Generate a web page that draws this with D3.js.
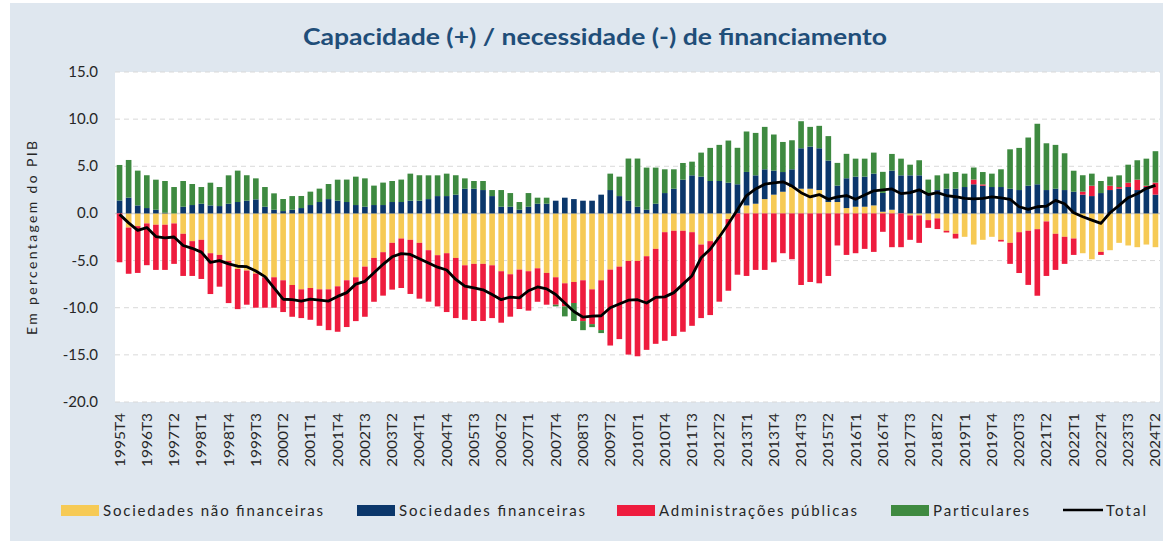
<!DOCTYPE html>
<html>
<head>
<meta charset="utf-8">
<script src="https://d3js.org/d3.v7.min.js"></script>
<style>
  body { margin: 0; background: #fff; }
  text { font-family: Lato, "Open Sans", sans-serif; }
</style>
</head>
<body>
<script>

  // quarters 1995T4 .. 2024T2
  const quarters = [];
  for (let y = 1995, q = 4; y < 2024 || q <= 2; q++) {
    if (q > 4) { q = 1; y++; }
    if (y === 2024 && q > 2) break;
    quarters.push(y + "T" + q);
  }

  // em percentagem do PIB
  const naoFinanceiras = [
    0, -1.5, -1.35, -1.06, -1.2, -1.2, -1.06, -2.16, -2.94, -2.8,
    -4.22, -4.4, -5.04, -5.89, -6.06, -6.38, -6.77, -6.77, -7.09, -7.59,
    -8.05, -7.91, -8.05, -8.05, -7.73, -7.09, -6.77, -5.64, -4.72, -4.11,
    -3.12, -2.66, -2.8, -3.12, -3.9, -4.43, -4.22, -4.72, -5.5, -5.35,
    -5.35, -5.5, -6.13, -6.45, -5.96, -6.13, -5.82, -6.31, -6.77, -7.41,
    -7.27, -7.09, -8.05, -7.09, -5.96, -5.64, -5.04, -5.04, -4.54, -3.76,
    -1.99, -1.84, -1.84, -1.99, -3.3, -2.94, -2.48, -0.6, 0, 0.85,
    1.03, 1.52, 1.99, 2.3, 2.8, 2.62, 2.62, 2.48, 1.21, 1.21,
    0.57, 0.71, 0.71, 0.85, 0.18, 0.39, 0, -0.21, -0.21, -0.71,
    -0.53, -1.84, -2.16, -2.48, -3.3, -2.8, -2.48, -2.8, -3.12, -1.99,
    -1.84, -1.67, -0.85, -2.16, -2.48, -2.66, -4.22, -4.86, -4.08, -3.9,
    -3.12, -3.4, -3.58, -3.3, -3.58
  ];
  const financeiras = [
    1.38, 1.67, 0.85, 0.57, 0.39, 0.07, 0, 0.71, 0.89, 1.03,
    0.85, 0.78, 1.03, 1.21, 1.35, 1.49, 0.71, 0.39, 0.25, 0.39,
    0.57, 0.89, 1.21, 1.52, 1.35, 1.21, 0.89, 0.71, 0.89, 0.89,
    1.21, 1.21, 1.35, 1.35, 1.52, 1.84, 1.84, 1.99, 2.62, 2.62,
    2.48, 1.84, 0.71, 0.71, 0.39, 0.71, 1.03, 1.03, 1.35, 1.67,
    1.52, 1.35, 1.35, 1.99, 2.48, 1.84, 1.35, 0.71, 0.39, 1.03,
    2.16, 2.62, 3.58, 4.04, 3.9, 3.44, 3.44, 3.26, 3.09, 3.55,
    3.01, 3.16, 2.55, 2.09, 1.88, 4.29, 4.47, 4.43, 4.4, 1.74,
    3.16, 3.19, 3.19, 3.37, 2.0, 4.15, 4.04, 4.04, 4.04, 1.99,
    2.48, 2.62, 2.62, 2.8, 3.09, 2.94, 2.8, 2.8, 2.62, 2.48,
    2.94, 3.09, 2.48, 2.62, 2.48, 2.3, 1.99, 1.84, 2.16, 2.48,
    2.62, 2.8, 2.48, 2.8, 1.99
  ];
  const admPublicas = [
    -5.18, -4.9, -4.96, -4.43, -4.79, -4.79, -4.29, -4.47, -3.69, -4.15,
    -4.33, -3.37, -4.47, -4.26, -3.62, -3.62, -3.23, -3.23, -3.37, -3.37,
    -3.05, -3.37, -3.87, -4.33, -4.82, -4.96, -4.65, -5.32, -4.65, -4.61,
    -4.96, -5.25, -5.74, -5.92, -5.46, -5.43, -6.24, -6.38, -5.78, -6.06,
    -6.06, -5.6, -5.46, -4.5, -4.18, -4.18, -3.55, -3.37, -2.91, -2.45,
    -2.23, -4.33, -3.69, -5.28, -8.05, -7.69, -9.93, -10.11, -9.93, -10.07,
    -11.52, -11.17, -10.71, -9.93, -7.8, -7.84, -6.88, -7.6, -6.5, -6.63,
    -5.99, -5.99, -5.18, -4.22, -4.86, -7.59, -7.27, -7.41, -6.63, -3.4,
    -4.4, -4.22, -3.76, -4.08, -1.95, -3.58, -3.58, -2.59, -2.91, -0.82,
    -1.13, -0.18, -0.5, 0, 0.5, 0.14, 0, -0.18, -2.23, -4.33,
    -5.74, -7.06, -5.78, -3.83, -2.87, -1.74, 0.32, 1.1, -0.32, 0.46,
    0.18, 0.46, 1.1, 0.14, 1.28
  ];
  const particulares = [
    3.76, 4.0, 3.69, 3.48, 3.19, 3.37, 2.8, 2.73, 2.23, 1.77,
    2.41, 2.02, 3.01, 3.33, 2.7, 2.23, 2.09, 1.74, 1.28, 1.45,
    1.28, 1.42, 1.42, 1.6, 2.23, 2.38, 3.01, 3.01, 2.06, 2.38,
    2.23, 2.38, 2.87, 2.7, 2.52, 2.2, 2.38, 2.06, 1.1, 0.82,
    0.96, 0.64, 1.77, 1.45, 0.82, 1.45, 0.64, 0.64, -0.18, -1.06,
    -1.91, -0.96, -0.32, -0.32, 1.74, 2.06, 4.47, 5.11, 4.47, 3.83,
    2.52, 2.06, 1.77, 1.45, 2.55, 3.51, 3.83, 4.47, 3.87, 4.29,
    4.5, 4.5, 3.83, 3.19, 3.08, 2.87, 2.09, 2.38, 2.59, 2.41,
    2.59, 1.91, 1.91, 2.23, 2.23, 1.77, 1.77, 1.13, 1.6, 1.6,
    1.56, 1.6, 1.77, 1.42, 1.28, 1.31, 1.42, 1.88, 4.18, 4.47,
    5.11, 6.42, 4.96, 4.65, 3.9, 2.23, 1.74, 1.28, 1.28, 0.96,
    1.24, 1.91, 2.06, 2.87, 3.33
  ];
  const total = [
    -0.1, -1.0, -1.8, -1.5, -2.45, -2.6, -2.5, -3.4, -3.7, -4.1,
    -5.2, -5.0, -5.35, -5.6, -5.65, -6.1, -6.7, -7.9, -9.1, -9.15,
    -9.3, -9.1, -9.2, -9.3, -8.8, -8.4, -7.5, -7.2, -6.3, -5.4,
    -4.6, -4.26, -4.35, -4.8, -5.25, -5.7, -6.0, -7.0, -7.7, -7.9,
    -8.1, -8.6, -9.15, -8.87, -8.95, -8.2, -7.8, -8.0, -8.6, -9.5,
    -10.4, -11.0, -10.9, -10.85, -10.0, -9.6, -9.2, -9.15, -9.5, -8.9,
    -8.85, -8.4, -7.5, -6.6, -4.7, -3.8, -2.5, -1.1, 0.4, 1.9,
    2.6, 3.1, 3.25, 3.35, 2.9, 2.2, 1.75, 2.0, 1.5, 1.75,
    1.9, 1.5, 1.95, 2.4, 2.5, 2.6, 2.1, 2.2, 2.5, 2.0,
    2.2, 1.9, 1.77, 1.6, 1.55, 1.6, 1.75, 1.65, 1.5, 0.71,
    0.43, 0.71, 0.78, 1.38, 1.03, 0.07, -0.35, -0.71, -1.06, 0.07,
    0.85, 1.67, 2.09, 2.66, 2.98
  ];

  const seriesNames = ["Sociedades não financeiras", "Sociedades financeiras", "Administrações públicas", "Particulares"];
  const seriesValues = [naoFinanceiras, financeiras, admPublicas, particulares];
  const colors = ["#f6ca55", "#0b376b", "#ee1c3e", "#3e8a40"];
  const yTicks = [-20, -15, -10, -5, 0, 5, 10, 15];

  const W = 1163, H = 541;
  const plot = { left: 115, right: 1160, top: 72, bottom: 402 };

  const svg = d3.select("body").append("svg")
    .attr("width", W)
    .attr("height", H);

  // fundo
  svg.append("rect").attr("x", 10).attr("y", 3).attr("width", W - 10).attr("height", H - 3).attr("fill", "#dfe7ef");
  svg.append("rect")
    .attr("x", plot.left).attr("y", plot.top)
    .attr("width", plot.right - plot.left).attr("height", plot.bottom - plot.top)
    .attr("fill", "#fff");

  const x = d3.scaleBand().domain(quarters).range([plot.left, plot.right]).paddingInner(0.38).paddingOuter(0.19);
  const y = d3.scaleLinear().domain([-20, 15]).range([plot.bottom, plot.top]);

  // grelha
  svg.append("g").selectAll("line")
    .data(yTicks)
    .join("line")
    .attr("x1", plot.left).attr("x2", plot.right)
    .attr("y1", d => y(d)).attr("y2", d => y(d))
    .attr("stroke", d => d === 0 ? "#d4d4d4" : "#d9d9d9")
    .attr("stroke-width", d => d === 0 ? 1.5 : 1)
    .attr("stroke-dasharray", d => d === 0 ? null : "5,4");

  // barras empilhadas
  const table = quarters.map((q, i) => {
    const row = { q };
    seriesNames.forEach((s, k) => row[s] = seriesValues[k][i]);
    return row;
  });
  const stacked = d3.stack().keys(seriesNames).offset(d3.stackOffsetDiverging)(table);

  svg.append("g").selectAll("g")
    .data(stacked)
    .join("g")
    .attr("fill", (d, k) => colors[k])
    .selectAll("rect")
    .data(d => d)
    .join("rect")
    .attr("x", d => x(d.data.q))
    .attr("width", x.bandwidth())
    .attr("y", d => y(Math.max(d[0], d[1])))
    .attr("height", d => Math.abs(y(d[0]) - y(d[1])));

  // linha do total
  const line = d3.line()
    .x((d, i) => x(quarters[i]) + x.bandwidth() / 2)
    .y(d => y(d));
  svg.append("path")
    .datum(total)
    .attr("d", line)
    .attr("fill", "none")
    .attr("stroke", "#000")
    .attr("stroke-width", 2.8)
    .attr("stroke-linejoin", "round");

  // eixo y
  svg.append("g").selectAll("text")
    .data(yTicks)
    .join("text")
    .attr("x", 98)
    .attr("y", d => y(d) + 5)
    .attr("text-anchor", "end")
    .attr("font-size", 15)
    .attr("fill", "#262626")
    .text(d => d.toFixed(1));

  svg.append("text")
    .attr("transform", "translate(37,238) rotate(-90)")
    .attr("text-anchor", "middle")
    .attr("font-size", 14)
    .attr("fill", "#262626")
    .attr("textLength", 194)
    .text("Em percentagem do PIB");

  // eixo x, um rótulo a cada 3 trimestres
  svg.append("g").selectAll("text")
    .data(quarters.filter((q, i) => i % 3 === 0))
    .join("text")
    .attr("transform", d => `translate(${x(d) + x.bandwidth() / 2 + 5},413) rotate(-90)`)
    .attr("text-anchor", "end")
    .attr("font-size", 13)
    .attr("fill", "#262626")
    .attr("textLength", 54)
    .attr("lengthAdjust", "spacingAndGlyphs")
    .text(d => d);

  // título
  svg.append("text")
    .attr("x", 595)
    .attr("y", 45)
    .attr("text-anchor", "middle")
    .attr("font-size", 22)
    .attr("font-weight", "bold")
    .attr("fill", "#1f4e79")
    .attr("textLength", 584)
    .attr("lengthAdjust", "spacingAndGlyphs")
    .text("Capacidade (+) / necessidade (-) de financiamento");

  // legenda
  const legendItems = [
    { name: seriesNames[0], color: colors[0], x: 61, w: 220 },
    { name: seriesNames[1], color: colors[1], x: 357, w: 186 },
    { name: seriesNames[2], color: colors[2], x: 617, w: 198 },
    { name: seriesNames[3], color: colors[3], x: 891, w: 96 },
    { name: "Total", color: "#000", x: 1063, w: 40, line: true }
  ];
  const legend = svg.append("g").selectAll("g")
    .data(legendItems)
    .join("g")
    .attr("transform", d => `translate(${d.x},510)`);
  legend.filter(d => !d.line).append("rect")
    .attr("y", -5).attr("width", 38).attr("height", 11)
    .attr("fill", d => d.color);
  legend.filter(d => d.line).append("line")
    .attr("x1", 0).attr("x2", 40)
    .attr("stroke", "#000").attr("stroke-width", 2.6);
  legend.append("text")
    .attr("x", d => d.line ? 43 : 42)
    .attr("y", 6)
    .attr("font-size", 15)
    .attr("fill", "#262626")
    .attr("textLength", d => d.w)
    .text(d => d.name);

</script>
</body>
</html>
